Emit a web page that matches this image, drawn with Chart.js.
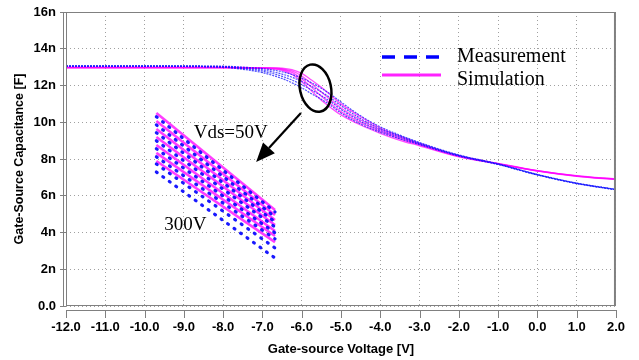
<!DOCTYPE html>
<html>
<head>
<meta charset="utf-8">
<script src="https://cdn.jsdelivr.net/npm/chart.js@4.4.1/dist/chart.umd.min.js"></script>
<style>
  html, body { margin: 0; padding: 0; background: #fff; }
  #wrap { width: 639px; height: 360px; }
</style>
</head>
<body>
<div id="wrap"><canvas id="chart_cgs"></canvas></div>
<script>
"use strict";

// 横軸 ゲート電圧 [V]
const xVolt = [-12, -10, -8, -7.5, -7, -6.5, -6.25, -6, -5.75, -5.5, -5.25, -5, -4.5, -4, -3.5, -3, -2, -1, 0, 1, 2];

// 測定 (Vds = 50V .. 300V)  単位 nF
const meas_50  = [13.07, 13.07, 13.05, 13.00, 12.92, 12.75, 12.60, 12.40, 12.15, 11.85, 11.50, 11.10, 10.35, 9.75, 9.30, 8.90, 8.22, 7.74, 7.16, 6.69, 6.35];
const meas_100 = [13.06, 13.06, 13.03, 12.96, 12.85, 12.62, 12.45, 12.22, 11.95, 11.65, 11.30, 10.90, 10.20, 9.65, 9.25, 8.86, 8.20, 7.72, 7.15, 6.68, 6.34];
const meas_200 = [13.05, 13.05, 13.01, 12.92, 12.78, 12.50, 12.30, 12.05, 11.75, 11.45, 11.10, 10.70, 10.05, 9.55, 9.18, 8.82, 8.18, 7.71, 7.14, 6.67, 6.33];
const meas_300 = [13.04, 13.04, 12.99, 12.88, 12.70, 12.38, 12.15, 11.88, 11.55, 11.25, 10.90, 10.50, 9.90, 9.45, 9.10, 8.78, 8.16, 7.70, 7.13, 6.66, 6.32];

// シミュレーション
const sim_50  = [12.99, 12.99, 12.99, 12.98, 12.97, 12.94, 12.86, 12.66, 12.30, 11.90, 11.45, 11.00, 10.30, 9.70, 9.25, 8.85, 8.18, 7.76, 7.37, 7.09, 6.91];
const sim_100 = [12.98, 12.98, 12.98, 12.97, 12.96, 12.91, 12.79, 12.52, 12.10, 11.65, 11.20, 10.78, 10.12, 9.60, 9.18, 8.81, 8.16, 7.75, 7.36, 7.08, 6.90];
const sim_200 = [12.97, 12.97, 12.97, 12.96, 12.94, 12.87, 12.71, 12.36, 11.90, 11.42, 10.98, 10.58, 9.98, 9.50, 9.10, 8.77, 8.14, 7.74, 7.35, 7.07, 6.89];
const sim_300 = [12.96, 12.96, 12.96, 12.95, 12.93, 12.83, 12.61, 12.20, 11.70, 11.20, 10.78, 10.40, 9.85, 9.40, 9.02, 8.72, 8.12, 7.73, 7.34, 7.06, 6.88];

// 拡大図 (左端 / 右端)
const insetX       = [-9.7, -6.68];
const insetSimL    = [10.50, 10.07, 9.63, 9.20, 8.76, 8.33, 7.89];
const insetSimR    = [5.22, 4.95, 4.68, 4.41, 4.08, 3.81, 3.48];
const insetMeasL   = [10.30, 9.86, 9.43, 8.99, 8.56, 8.12, 7.73, 7.29];
const insetMeasR   = [5.12, 4.85, 4.58, 4.30, 3.98, 3.65, 3.16, 2.61];

// 目盛り
const xTickLabels = ['-12.0', '-11.0', '-10.0', '-9.0', '-8.0', '-7.0', '-6.0', '-5.0', '-4.0', '-3.0', '-2.0', '-1.0', '0.0', '1.0', '2.0'];
const yTickLabels = ['0.0', '2n', '4n', '6n', '8n', '10n', '12n', '14n', '16n'];

const FONT = "'Liberation Sans', Arial, sans-serif";
const SERIF = "'Liberation Serif', 'Times New Roman', serif";

const toPts = (xs, ys) => xs.map((x, i) => ({ x: x, y: ys[i] }));

const datasets = [];
// 拡大図 シミュ
for (let k = 0; k < insetSimL.length; k++) {
    datasets.push({
        data: toPts(insetX, [insetSimL[k], insetSimR[k]]),
        borderColor: 'rgba(255,40,255,0.9)', borderWidth: 2.6,
        pointRadius: 0, order: 3
    });
}
// 拡大図 測定
for (let k = 0; k < insetMeasL.length; k++) {
    datasets.push({
        data: toPts(insetX, [insetMeasL[k], insetMeasR[k]]),
        borderColor: 'rgba(0,0,255,0.9)', borderWidth: 3.2, borderDash: [1, 7],
        borderCapStyle: 'round', pointRadius: 0, order: 2
    });
}
[meas_50, meas_100, meas_200, meas_300].forEach(m => {
    datasets.push({
        data: toPts(xVolt, m), borderColor: 'rgba(20,20,255,0.75)', borderWidth: 1.2,
        borderDash: [2, 1], pointRadius: 0, cubicInterpolationMode: 'monotone', order: 1
    });
});
[sim_50, sim_100, sim_200, sim_300].forEach(s => {
    datasets.push({
        data: toPts(xVolt, s), borderColor: 'rgba(255,0,255,0.7)', borderWidth: 1.3,
        pointRadius: 0, cubicInterpolationMode: 'monotone', order: 1
    });
});

// 枠・凡例・注釈
const decor = {
    id: 'decor',
    afterDraw(chart) {
        const { ctx, chartArea: a, scales: { x, y } } = chart;
        ctx.save();
        ctx.strokeStyle = '#808080';
        ctx.lineWidth = 1;
        ctx.beginPath();
        ctx.moveTo(a.left + 0.5, a.top + 0.5);
        ctx.lineTo(a.right - 0.5, a.top + 0.5);
        ctx.moveTo(a.left + 0.5, a.bottom - 0.5);
        ctx.lineTo(a.right, a.bottom - 0.5);
        ctx.moveTo(a.left + 0.5, a.top);
        ctx.lineTo(a.left + 0.5, a.bottom);
        ctx.moveTo(a.left - 2.5, a.top);
        ctx.lineTo(a.left - 2.5, a.bottom);
        // x軸 (少し下)
        ctx.moveTo(a.left, a.bottom + 4.5);
        ctx.lineTo(a.right, a.bottom + 4.5);
        x.ticks.forEach(t => {
            const px = Math.round(x.getPixelForValue(t.value)) + 0.5;
            ctx.moveTo(px, a.bottom + 4);
            ctx.lineTo(px, a.bottom + 12);
        });
        ctx.stroke();
        ctx.lineWidth = 2;
        ctx.beginPath();
        ctx.moveTo(a.right - 1, a.top);
        ctx.lineTo(a.right - 1, a.bottom);
        ctx.stroke();

        // 凡例
        const lx0 = a.left + 316, lx1 = a.left + 374;
        ctx.strokeStyle = '#0000ff';
        ctx.lineWidth = 3.5;
        ctx.setLineDash([13, 9]);
        ctx.beginPath();
        ctx.moveTo(lx0, a.top + 45);
        ctx.lineTo(lx1, a.top + 45);
        ctx.stroke();
        ctx.setLineDash([]);
        ctx.strokeStyle = '#ff22ff';
        ctx.lineWidth = 3;
        ctx.beginPath();
        ctx.moveTo(lx0, a.top + 63);
        ctx.lineTo(lx1 + 1, a.top + 63);
        ctx.stroke();
        ctx.fillStyle = '#000';
        ctx.font = '20px ' + SERIF;
        ctx.textAlign = 'left';
        ctx.textBaseline = 'alphabetic';
        ctx.fillText('Measurement', a.left + 391, a.top + 50);
        ctx.fillText('Simulation', a.left + 391, a.top + 73);

        // 注釈
        ctx.font = '19px ' + SERIF;
        ctx.fillText('Vds=50V', x.getPixelForValue(-8.75), y.getPixelForValue(9.14));
        ctx.fillText('300V', x.getPixelForValue(-9.5), y.getPixelForValue(4.14));

        ctx.strokeStyle = '#000';
        ctx.lineWidth = 2.5;
        ctx.beginPath();
        ctx.ellipse(x.getPixelForValue(-5.65), y.getPixelForValue(11.86), 15.5, 24, -0.22, 0, Math.PI * 2);
        ctx.stroke();

        const sx = x.getPixelForValue(-6.02), sy = y.getPixelForValue(10.50);
        const tx = x.getPixelForValue(-7.16), ty = y.getPixelForValue(7.84);
        const ang = Math.atan2(ty - sy, tx - sx);
        const hl = 19, hw = 8;
        const bx = tx - hl * Math.cos(ang), by = ty - hl * Math.sin(ang);
        ctx.lineWidth = 2.2;
        ctx.beginPath();
        ctx.moveTo(sx, sy);
        ctx.lineTo(bx, by);
        ctx.stroke();
        ctx.fillStyle = '#000';
        ctx.beginPath();
        ctx.moveTo(tx, ty);
        ctx.lineTo(bx + hw * Math.sin(ang), by - hw * Math.cos(ang));
        ctx.lineTo(bx - hw * Math.sin(ang), by + hw * Math.cos(ang));
        ctx.closePath();
        ctx.fill();
        ctx.restore();
    }
};

const ctx = document.getElementById('chart_cgs');
const chart = new Chart(ctx, {
    type: 'line',
    data: { datasets: datasets },
    options: {
        responsive: true,
        maintainAspectRatio: false,
        devicePixelRatio: 1,
        animation: false,
        layout: { padding: { top: 12, right: 18, bottom: 0, left: 0 } },
        plugins: {
            legend: { display: false },
            tooltip: { enabled: false },
            title: { display: false }
        },
        scales: {
            x: {
                type: 'linear', min: -12, max: 2,
                afterFit: s => { s.height = 54; },
                grid: { color: '#a0a0a0', drawTicks: false },
                border: { display: false, dash: [1, 3] },
                ticks: {
                    stepSize: 1, padding: 14, color: '#000', maxRotation: 0, autoSkip: false,
                    font: { family: FONT, size: 13, weight: 'bold' },
                    callback: (v, i) => xTickLabels[i]
                },
                title: {
                    display: true, text: 'Gate-source Voltage [V]', color: '#000',
                    font: { family: FONT, size: 13, weight: 'bold' },
                    padding: { top: 0, bottom: 3 }
                }
            },
            y: {
                min: 0, max: 16,
                afterFit: s => { s.width = 66; },
                grid: { color: '#a0a0a0', tickColor: '#808080', tickLength: 6, tickBorderDash: [] },
                border: { display: false, dash: [1, 3] },
                ticks: {
                    stepSize: 2, padding: 4, color: '#000',
                    font: { family: FONT, size: 13, weight: 'bold' },
                    callback: (v, i) => yTickLabels[i]
                },
                title: {
                    display: true, text: 'Gate-Source Capacitance [F]', color: '#000',
                    font: { family: FONT, size: 12.5, weight: 'bold' },
                    padding: { top: 12, bottom: 0 }
                }
            }
        }
    },
    plugins: [decor]
});
</script>
</body>
</html>
